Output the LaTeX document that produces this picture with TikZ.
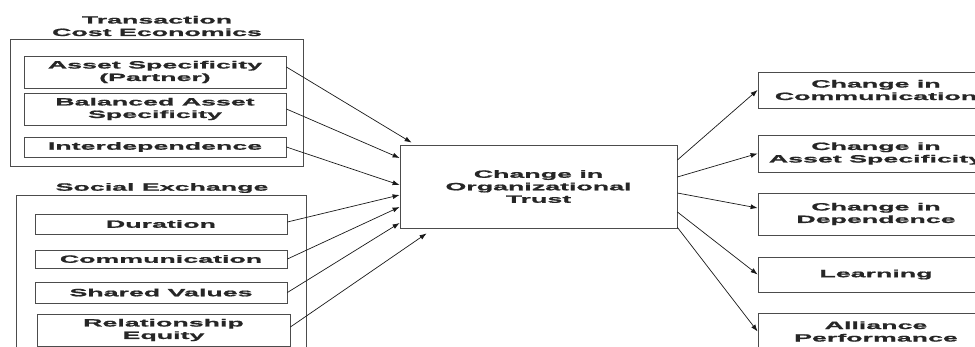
\documentclass[tikz,border=0pt]{standalone}
\usepackage{fontspec}
\setmainfont{Liberation Sans}
\newfontfamily\widefont[FakeStretch=2.55,FakeBold=1.2]{Liberation Sans}
\usetikzlibrary{arrows.meta}

\tikzset{
  box/.style={draw=black!70, line width=0.8pt, inner sep=0pt, align=center},
  group/.style={draw=black!70, line width=1pt},
  link/.style={black!90, line width=0.7pt, -{Latex[length=7pt,width=5pt]}},
}

\begin{document}
\begin{tikzpicture}[x=1pt, y=-1pt, every node/.style={font=\widefont\bfseries\fontsize{10.5}{12.5}\selectfont, text=black!85}]
    \useasboundingbox (0,0) rectangle (975,347);
    \clip (0,0) rectangle (975,347);
    % Transaction cost economics
    \node[align=center] (tcetitle) at (157,26) {Transaction\\Cost Economics};
    \draw[group] (10,40) rectangle (303,167);
    \node[box, minimum width=262pt, minimum height=32pt] (asp) at (155,72) {Asset Specificity\\(Partner)};
    \node[box, minimum width=262pt, minimum height=32pt] (bas) at (155,109) {Balanced Asset\\Specificity};
    \node[box, minimum width=262pt, minimum height=20pt] (ind) at (155,147) {Interdependence};
    % Social exchange
    \node (sextitle) at (162,188) {Social Exchange};
    \draw[group] (16,196) rectangle (306,365);
    \node[box, minimum width=252pt, minimum height=20pt] (dur) at (161,224) {Duration};
    \node[box, minimum width=252pt, minimum height=18pt] (com) at (161,259) {Communication};
    \node[box, minimum width=252pt, minimum height=21pt] (shv) at (161,292.5) {Shared Values};
    \node[box, minimum width=253pt, minimum height=32pt] (req) at (163.5,330) {Relationship\\Equity};
    % Trust
    \node[box, minimum width=277pt, minimum height=83pt] (trust) at (538.5,186.5) {Change in\\Organizational\\Trust};
    % Outcomes
    \node[box, minimum width=236pt, minimum height=36pt] (ccom) at (876,90) {Change in\\Communication};
    \node[box, minimum width=236pt, minimum height=37pt] (casp) at (876,153.5) {Change in\\Asset Specificity};
    \node[box, minimum width=236pt, minimum height=42pt] (cdep) at (876,214) {Change in\\Dependence};
    \node[box, minimum width=236pt, minimum height=35pt] (learn) at (876,274.5) {Learning};
    \node[box, minimum width=236pt, minimum height=37pt] (perf) at (876,331.5) {Alliance\\Performance};
    % Antecedents -> trust
    \draw[link] ([yshift=5pt]asp.east) -- ([xshift=12pt,yshift=2pt]trust.north west);
    \draw[link] (bas.east) -- ([yshift=28.5pt]trust.west);
    \draw[link] (ind.east) -- ([yshift=1.5pt]trust.west);
    \draw[link] ([yshift=2pt]dur.east) -- ([yshift=-8.5pt]trust.west);
    \draw[link] (com.east) -- ([yshift=-20.5pt]trust.west);
    \draw[link] (shv.east) -- ([yshift=-36.5pt]trust.west);
    \draw[link] ([yshift=3pt]req.east) -- ([xshift=27pt,yshift=-5pt]trust.south west);
    % Trust -> outcomes
    \draw[link] ([yshift=26.5pt]trust.east) -- (ccom.west);
    \draw[link] ([yshift=9.5pt]trust.east) -- (casp.west);
    \draw[link] ([yshift=-6.5pt]trust.east) -- ([yshift=6pt]cdep.west);
    \draw[link] ([yshift=-25.5pt]trust.east) -- (learn.west);
    \draw[link] ([yshift=1pt]trust.south east) -- (perf.west);
\end{tikzpicture}
\end{document}
